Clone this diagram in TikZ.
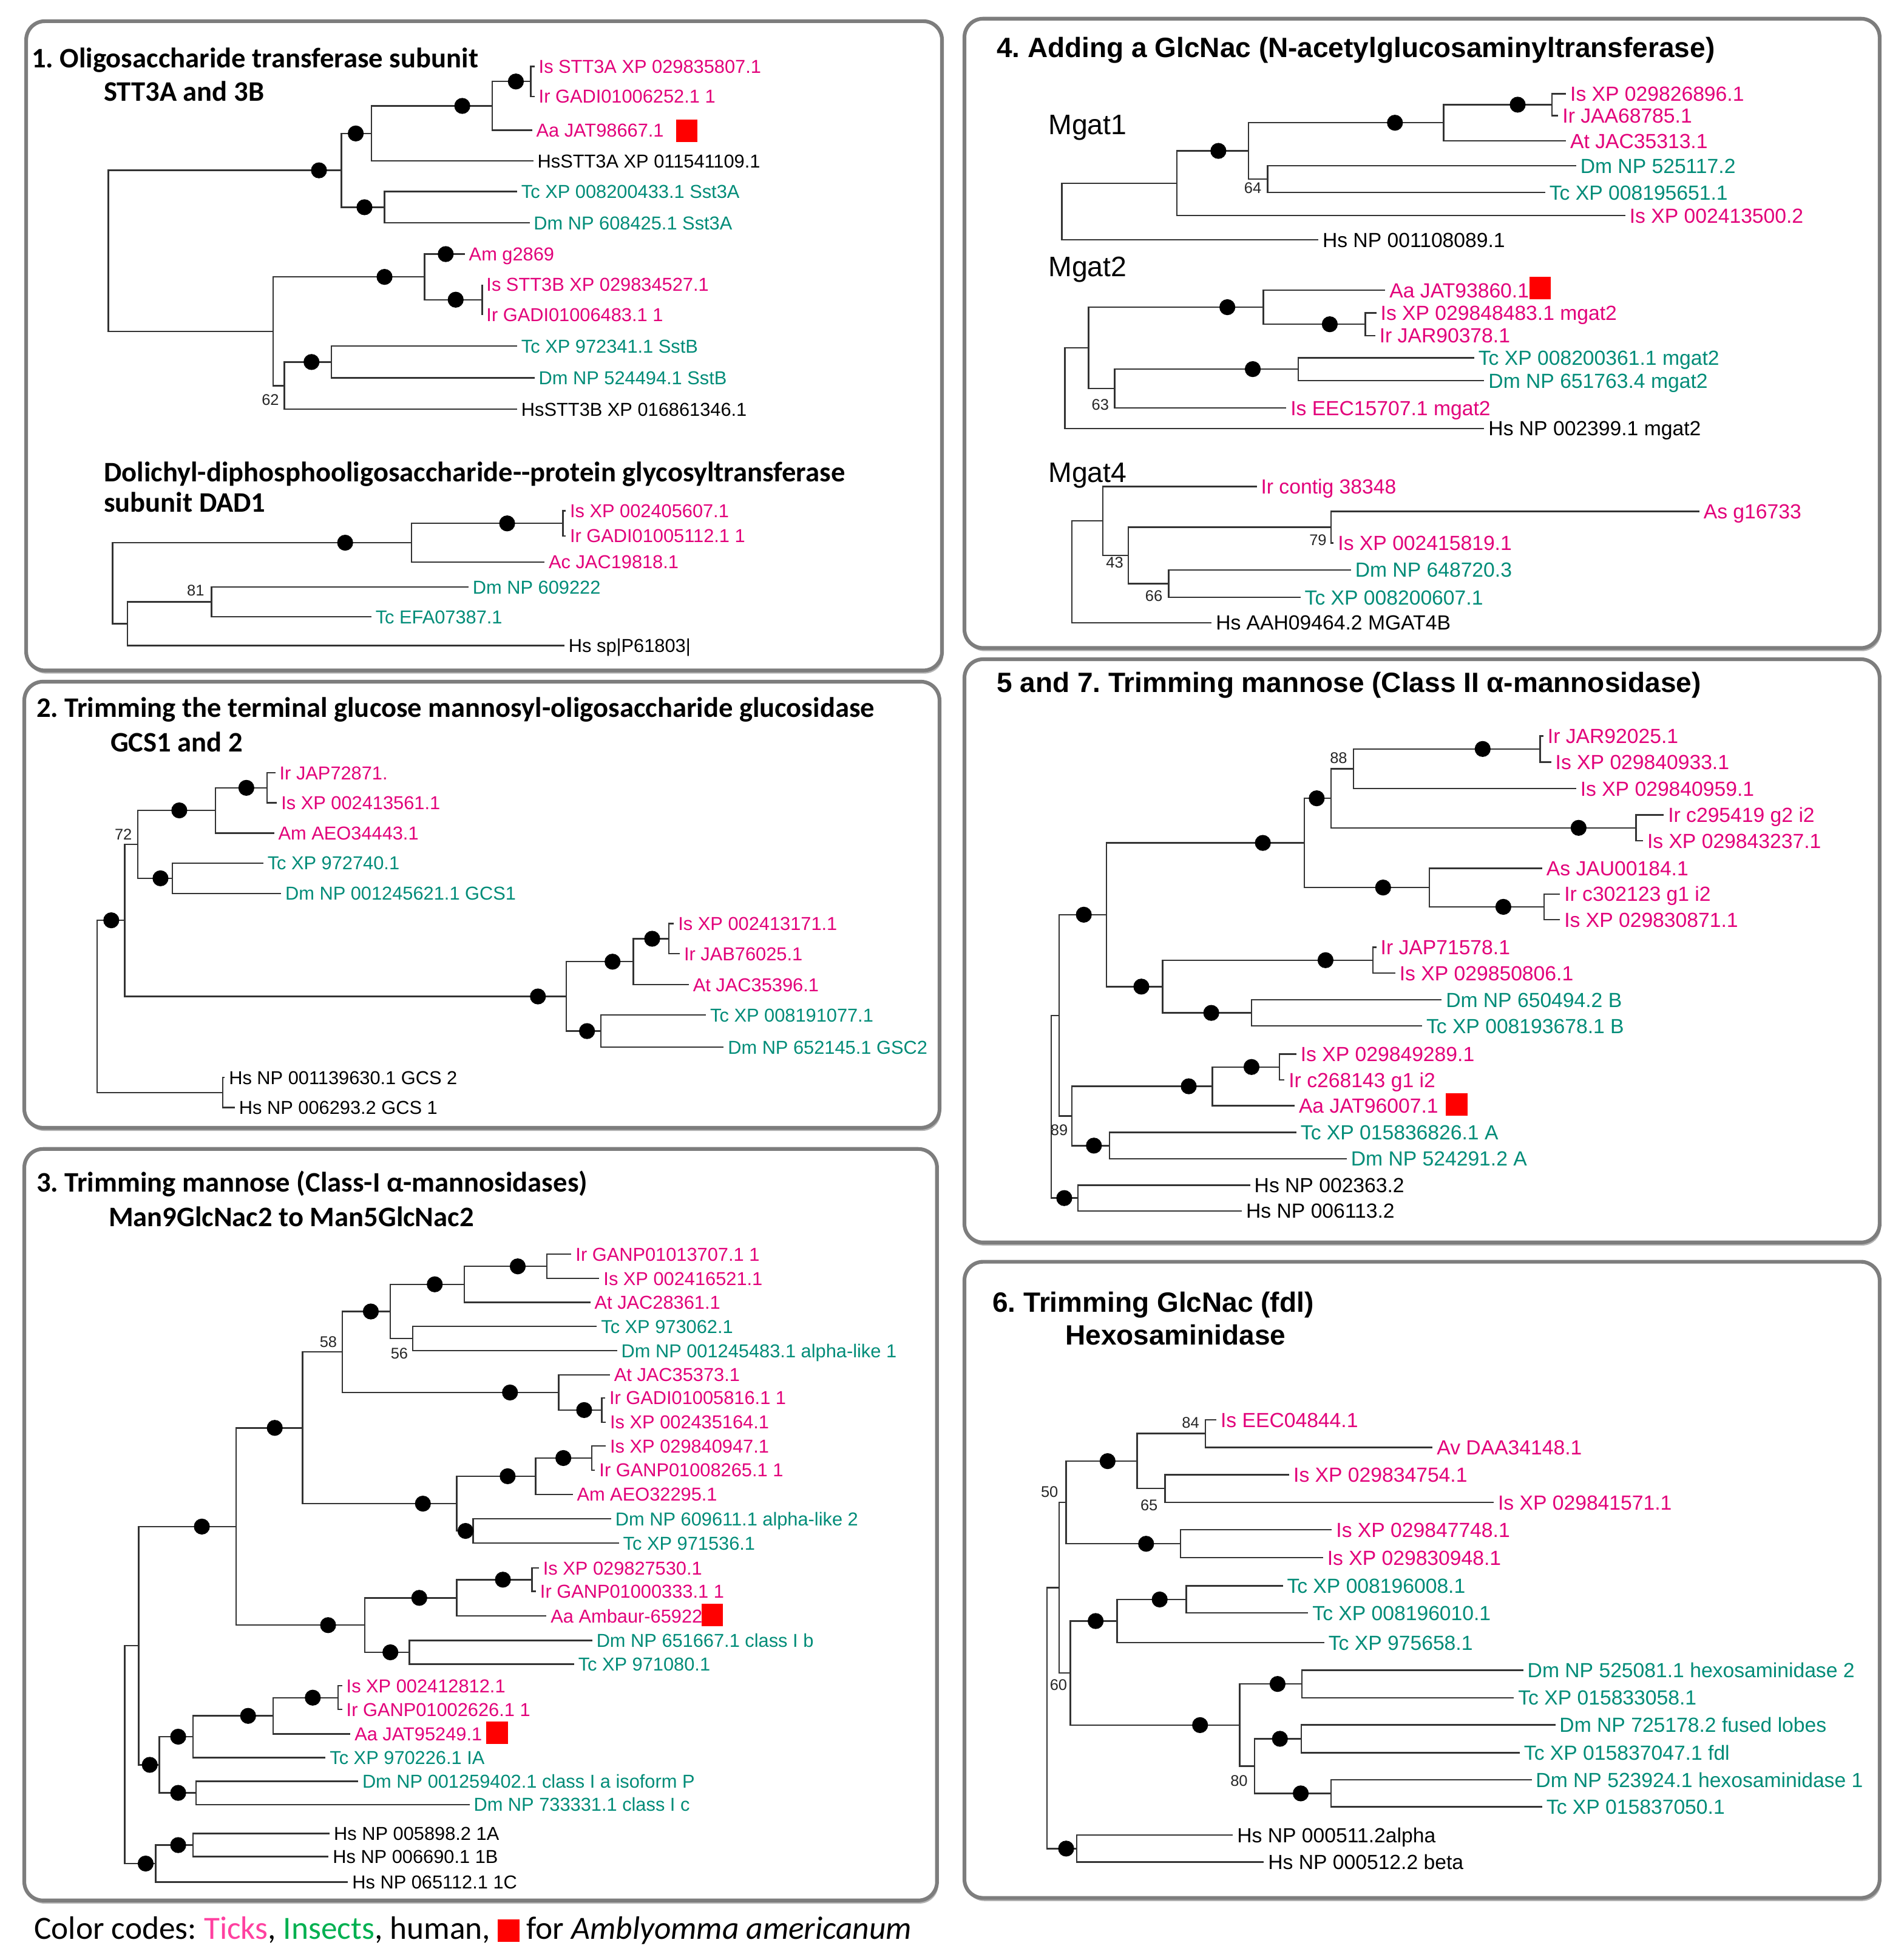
\documentclass[tikz,border=0pt]{standalone}
\usepackage{fontspec}
\setmainfont{Liberation Sans}
\newfontfamily\calibri{Carlito}
\frenchspacing
\definecolor{tickpink}{RGB}{226,0,122}
\definecolor{insectteal}{RGB}{0,140,120}
\definecolor{legpink}{RGB}{255,64,160}
\definecolor{leggreen}{RGB}{0,176,80}
\definecolor{aared}{RGB}{255,0,0}
\definecolor{panelgray}{RGB}{125,125,125}
\tikzset{ % tree styles
  leaf/.style={anchor=west,inner xsep=1.5pt,inner ysep=0pt,xshift=-1.5pt,
    text height=5.4pt,text depth=0pt,font=\fontsize{7.5}{9}\selectfont},
  tick/.style={leaf,text=tickpink},
  insect/.style={leaf,text=insectteal},
  human/.style={leaf,text=black},
  branch/.style={draw=black!80,line width=0.6pt},
  boot/.style={circle,fill=black,inner sep=0pt,minimum size=6.4pt},
  bsval/.style={inner sep=0pt,font=\fontsize{6.2}{7}\selectfont,text=black!85},
  aasq/.style={fill=aared,inner sep=0pt,minimum width=8.6pt,minimum height=9pt},
  title/.style={anchor=west,inner sep=0pt,text height=7.3pt,text depth=0pt,
    font=\calibri\bfseries\fontsize{11.35}{13}\selectfont},
  rtitle/.style={anchor=west,inner sep=0pt,text height=8pt,text depth=0pt,
    font=\bfseries\fontsize{11.2}{13}\selectfont},
  gene/.style={anchor=west,inner sep=0pt,text height=8.1pt,text depth=0pt,
    font=\fontsize{11.3}{13}\selectfont},
  panel/.style={draw=panelgray,line width=1.5pt,rounded corners=7.5pt,fill=white},
  panelshadow/.style={fill=black!30,rounded corners=7.5pt}
}

\begin{document}
\begin{tikzpicture}[x=0.5pt,y=-0.5pt]
\useasboundingbox (0,0) rectangle (1528,1568);

% panels
\foreach \xa/\ya/\xb/\yb in {21/17/756/538,19.5/547/754/905,19.5/922/752/1525,
  774/15/1508.5/520,774/529/1508.5/997,774/1012.5/1508.5/1523}
{
  \fill[panelshadow] (\xa+1,\ya+2.5) rectangle (\xb+1,\yb+2.5);
  \draw[panel] (\xa,\ya) rectangle (\xb,\yb);
}

%%%% 1. STT3A and 3B
\node[title] (t1a) at (25,47)   {1. Oligosaccharide transferase subunit};
\node[title] (t1b) at (83,74)   {STT3A and 3B};

\coordinate (A0)  at (87,201.3);
\coordinate (A1)  at (274,136.7);
\coordinate (A2)  at (298,107.1);
\coordinate (A3)  at (395,85);
\coordinate (A4)  at (426,65.4);
\coordinate (A5)  at (308.6,166.3);
\coordinate (A6)  at (219.3,265.9);
\coordinate (A7)  at (340.7,222.2);
\coordinate (A8)  at (387,240.5);
\coordinate (A9)  at (228.3,309.5);
\coordinate (A10) at (266,290.5);

\node[tick]   (Ax1)  at (432,53.3)  {Is STT3A XP 029835807.1};
\node[tick]   (Ax2)  at (432,77.4)  {Ir GADI01006252.1 1};
\node[tick]   (Ax3)  at (430,104.5) {Aa JAT98667.1};
\node[human]  (Ax4)  at (431,129.2) {HsSTT3A XP 011541109.1};
\node[insect] (Ax5)  at (418,153.7) {Tc XP 008200433.1 Sst3A};
\node[insect] (Ax6)  at (428,178.8) {Dm NP 608425.1 Sst3A};
\node[tick]   (Ax7)  at (376,203.9) {Am g2869};
\node[tick]   (Ax8)  at (390,228.4) {Is STT3B XP 029834527.1};
\node[tick]   (Ax9)  at (390,252.6) {Ir GADI01006483.1 1};
\node[insect] (Ax10) at (418,277.7) {Tc XP 972341.1 SstB};
\node[insect] (Ax11) at (432,303.2) {Dm NP 524494.1 SstB};
\node[human]  (Ax12) at (418,328.4) {HsSTT3B XP 016861346.1};

% connections
\foreach \p/\c in {A0/A1,A0/A6,A1/A2,A1/A5,A2/A3,A2/Ax4,A3/A4,A3/Ax3,A4/Ax1,A4/Ax2,
  A5/Ax5,A5/Ax6,A6/A7,A6/A9,A7/Ax7,A7/A8,A8/Ax8,A8/Ax9,A9/A10,A9/Ax12,A10/Ax10,A10/Ax11}
  \draw[branch] (\p) |- (\c);
% support
\foreach \x/\y [count=\i] in {256/136.7,285.5/107.1,371/85,414/65.4,292.5/166.3,
  357.7/203.9,365.7/240.5,308.6/222.2,250/290.5}
  \node[boot] (Ab\i) at (\x,\y) {};
\node[bsval] (Av1) at (217,321) {62};
\node[aasq]  (Aq1) at (551,105) {};

%%%% 1b. DAD1
\node[title] (t1c) at (83,379)   {Dolichyl-diphosphooligosaccharide-{}-protein glycosyltransferase};
\node[title] (t1d) at (83,403.5) {subunit DAD1};

\coordinate (B0) at (90.3,468);
\coordinate (B1) at (330.3,435.5);
\coordinate (B2) at (451.7,420);
\coordinate (B3) at (169.7,483);
\coordinate (B4) at (102.2,500.5);

\node[tick]   (Bx1) at (457,410) {Is XP 002405607.1};
\node[tick]   (Bx2) at (457,430) {Ir GADI01005112.1 1};
\node[tick]   (Bx3) at (440,451) {Ac JAC19818.1};
\node[insect] (Bx4) at (379,471) {Dm NP 609222};
\node[insect] (Bx5) at (301,495) {Tc EFA07387.1};
\node[human]  (Bx6) at (456,518) {Hs sp|P61803|};

\foreach \p/\c in {B0/B1,B0/B4,B1/B2,B1/Bx3,B2/Bx1,B2/Bx2,B4/B3,B4/Bx6,B3/Bx4,B3/Bx5}
  \draw[branch] (\p) |- (\c);
\foreach \x/\y [count=\i] in {277/435.5,407/420}
  \node[boot] (Bb\i) at (\x,\y) {};
\node[bsval] (Bv1) at (157,474) {81};

%%%% 2. GCS1 and 2
\node[title] (t2a) at (28.9,568.1) {2. Trimming the terminal glucose mannosyl-oligosaccharide glucosidase};
\node[title] (t2b) at (88.3,595.8) {GCS1 and 2};

\coordinate (C0)  at (77.9,807.6);
\coordinate (C1)  at (214.3,632.2);
\coordinate (C2)  at (173,650.3);
\coordinate (C3)  at (138.3,704.8);
\coordinate (C4)  at (110.7,677.5);
\coordinate (C5)  at (536.7,753.3);
\coordinate (C6)  at (508.2,771.7);
\coordinate (C7)  at (482.1,827.4);
\coordinate (C8)  at (454.5,799.6);
\coordinate (C9)  at (100.2,738.5);
\coordinate (C10) at (178.7,876.7);

\node[tick]   (Cx1)  at (224,620.1)   {Ir JAP72871.};
\node[tick]   (Cx2)  at (225.3,644.2) {Is XP 002413561.1};
\node[tick]   (Cx3)  at (223,668.5)   {Am AEO34443.1};
\node[insect] (Cx4)  at (214.3,692.6) {Tc XP 972740.1};
\node[insect] (Cx5)  at (228.6,716.9) {Dm NP 001245621.1 GCS1};
\node[tick]   (Cx6)  at (543.9,741.2) {Is XP 002413171.1};
\node[tick]   (Cx7)  at (548.6,765.3) {Ir JAB76025.1};
\node[tick]   (Cx8)  at (555.8,790.2) {At JAC35396.1};
\node[insect] (Cx9)  at (569.6,814.5) {Tc XP 008191077.1};
\node[insect] (Cx10) at (583.8,840.3) {Dm NP 652145.1 GSC2};
\node[human]  (Cx11) at (183.4,864.6) {Hs NP 001139630.1 GCS 2};
\node[human]  (Cx12) at (191.5,888.7) {Hs NP 006293.2 GCS 1};

\foreach \p/\c in {C0/C9,C0/C10,C9/C4,C9/C8,C4/C2,C4/C3,C2/C1,C2/Cx3,C1/Cx1,C1/Cx2,
  C3/Cx4,C3/Cx5,C8/C6,C8/C7,C6/C5,C6/Cx8,C5/Cx6,C5/Cx7,C7/Cx9,C7/Cx10,C10/Cx11,C10/Cx12}
  \draw[branch] (\p) |- (\c);
\foreach \x/\y [count=\i] in {197.7/632.2,143.9/650.3,128.8/704.8,523.4/753.3,
  491.6/771.7,471.1/827.4,431.7/799.6,89.3/738.5}
  \node[boot] (Cb\i) at (\x,\y) {};
\node[bsval] (Cv1) at (99,669.5) {72};

%%%% 3. Class-I mannosidases
\node[title] (t3a) at (28.9,949)   {3. Trimming mannose (Class-I α-mannosidases)};
\node[title] (t3b) at (86.9,976.7) {Man9GlcNac2 to Man5GlcNac2};

\coordinate (D0)  at (100.2,1408);
\coordinate (D1)  at (438.8,1016.2);
\coordinate (D2)  at (372.7,1030.6);
\coordinate (D3)  at (331.3,1074.1);
\coordinate (D4)  at (313.3,1052.4);
\coordinate (D5)  at (483,1131.5);
\coordinate (D6)  at (448.3,1117.4);
\coordinate (D7)  at (274.8,1084.9);
\coordinate (D8)  at (474.9,1170);
\coordinate (D9)  at (429.8,1184.6);
\coordinate (D10) at (379.8,1228.5);
\coordinate (D11) at (366.5,1206.6);
\coordinate (D12) at (242.9,1145.8);
\coordinate (D13) at (426.9,1267.6);
\coordinate (D14) at (366.5,1282.2);
\coordinate (D15) at (328.5,1325.9);
\coordinate (D16) at (292.8,1304.1);
\coordinate (D17) at (189.6,1225);
\coordinate (D18) at (271.4,1362.3);
\coordinate (D19) at (219.1,1376.9);
\coordinate (D20) at (154.9,1393.6);
\coordinate (D21) at (157.3,1438.7);
\coordinate (D22) at (127.8,1416.2);
\coordinate (D23) at (111.2,1320.6);
\coordinate (D24) at (154.9,1480.6);
\coordinate (D25) at (125,1495.4);

\node[tick]   (Dx1)  at (461.6,1006.4) {Ir GANP01013707.1 1};
\node[tick]   (Dx2)  at (484,1025.9)   {Is XP 002416521.1};
\node[tick]   (Dx3)  at (476.8,1045)   {At JAC28361.1};
\node[insect] (Dx4)  at (482,1064.3)   {Tc XP 973062.1};
\node[insect] (Dx5)  at (498.2,1083.8) {Dm NP 001245483.1 alpha-like 1};
\node[tick]   (Dx6)  at (492.5,1103.2) {At JAC35373.1};
\node[tick]   (Dx7)  at (488.7,1121.7) {Ir GADI01005816.1 1};
\node[tick]   (Dx8)  at (489.2,1141.2) {Is XP 002435164.1};
\node[tick]   (Dx9)  at (489.2,1160.3) {Is XP 029840947.1};
\node[tick]   (Dx10) at (480.6,1179.7) {Ir GANP01008265.1 1};
\node[tick]   (Dx11) at (462.6,1199.2) {Am AEO32295.1};
\node[insect] (Dx12) at (493.5,1218.7) {Dm NP 609611.1 alpha-like 2};
\node[insect] (Dx13) at (499.7,1238.3) {Tc XP 971536.1};
\node[tick]   (Dx14) at (435.5,1258.2) {Is XP 029827530.1};
\node[tick]   (Dx15) at (433.1,1276.9) {Ir GANP01000333.1 1};
\node[tick]   (Dx16) at (441.6,1296.7) {Aa Ambaur-65922};
\node[insect] (Dx17) at (478.3,1316.5) {Dm NP 651667.1 class I b};
\node[insect] (Dx18) at (463.7,1335.3) {Tc XP 971080.1};
\node[tick]   (Dx19) at (277.6,1352.8) {Is XP 002412812.1};
\node[tick]   (Dx20) at (277.6,1371.7) {Ir GANP01002626.1 1};
\node[tick]   (Dx21) at (284.2,1391.4) {Aa JAT95249.1};
\node[insect] (Dx22) at (264.3,1410.3) {Tc XP 970226.1 IA};
\node[insect] (Dx23) at (290.4,1429.3) {Dm NP 001259402.1 class I a isoform P};
\node[insect] (Dx24) at (379.8,1448.1) {Dm NP 733331.1 class I c};
\node[human]  (Dx25) at (267.6,1471.3) {Hs NP 005898.2 1A};
\node[human]  (Dx26) at (266.7,1489.9) {Hs NP 006690.1 1B};
\node[human]  (Dx27) at (282.3,1510.2) {Hs NP 065112.1 1C};

\foreach \p/\c in {D0/D23,D0/D25,D23/D17,D23/D22,D17/D12,D17/D16,D12/D7,D12/D11,
  D7/D4,D7/D6,D4/D2,D4/D3,D2/D1,D2/Dx3,D1/Dx1,D1/Dx2,D3/Dx4,D3/Dx5,D6/Dx6,D6/D5,
  D5/Dx7,D5/Dx8,D11/D9,D11/D10,D9/D8,D9/Dx11,D8/Dx9,D8/Dx10,D10/Dx12,D10/Dx13,
  D16/D14,D16/D15,D14/D13,D14/Dx16,D13/Dx14,D13/Dx15,D15/Dx17,D15/Dx18,
  D22/D20,D22/D21,D20/D19,D20/Dx22,D19/D18,D19/Dx21,D18/Dx19,D18/Dx20,
  D21/Dx23,D21/Dx24,D25/D24,D25/Dx27,D24/Dx25,D24/Dx26}
  \draw[branch] (\p) |- (\c);
\foreach \x/\y [count=\i] in {415.5/1016.2,348.9/1030.6,297.6/1052.4,468.8/1131.5,
  409.3/1117.4,452.1/1170,407.4/1184.6,373.6/1228.5,339.4/1206.6,220.5/1145.8,
  403.6/1267.6,336.5/1282.2,313.3/1325.9,263.3/1304.1,162/1225,251/1362.3,
  199.1/1376.9,143/1393.6,143/1438.7,120.2/1416.2,143/1480.6,116.9/1495.4}
  \node[boot] (Db\i) at (\x,\y) {};
\node[bsval] (Dv1) at (263.5,1077) {58};
\node[bsval] (Dv2) at (320.5,1086) {56};
\node[aasq]  (Dq1) at (571.5,1296)   {};
\node[aasq]  (Dq2) at (399,1390.5)   {};

%%%% right column
\begin{scope}[leaf/.append style={font=\fontsize{8.2}{10}\selectfont,text height=5.9pt}]

%%%% 4. GlcNac transferases
\node[rtitle] (t4a) at (799.5,38) {4. Adding a GlcNac (N-acetylglucosaminyltransferase)};
\node[gene] (g1) at (841,100) {Mgat1};
\node[gene] (g2) at (841,214) {Mgat2};
\node[gene] (g4) at (841,379) {Mgat4};

\coordinate (E0) at (852.2,169.7);
\coordinate (E1) at (1245.5,84);
\coordinate (E2) at (1158.5,98.5);
\coordinate (E3) at (1017.3,143.7);
\coordinate (E4) at (1002,121.1);
\coordinate (E5) at (944.5,147);

\node[tick]   (Ex1) at (1259.8,75.2) {Is XP 029826896.1};
\node[tick]   (Ex2) at (1253.6,92.7) {Ir JAA68785.1};
\node[tick]   (Ex3) at (1259.8,113)  {At JAC35313.1};
\node[insect] (Ex4) at (1267.9,133)  {Dm NP 525117.2};
\node[insect] (Ex5) at (1243.1,154.4) {Tc XP 008195651.1};
\node[tick]   (Ex6) at (1307.4,173)  {Is XP 002413500.2};
\node[human]  (Ex7) at (1061,192.4)  {Hs NP 001108089.1};

\foreach \p/\c in {E0/E5,E0/Ex7,E5/E4,E5/Ex6,E4/E2,E4/E3,E2/E1,E2/Ex3,E1/Ex1,E1/Ex2,
  E3/Ex4,E3/Ex5}
  \draw[branch] (\p) |- (\c);
\foreach \x/\y [count=\i] in {1218/84,1119.5/98.5,977.8/121.1}
  \node[boot] (Eb\i) at (\x,\y) {};
\node[bsval] (Ev1) at (1005.4,151) {64};

\coordinate (F0) at (854.6,311.5);
\coordinate (F1) at (1095.7,260.2);
\coordinate (F2) at (1013.9,246.5);
\coordinate (F3) at (1042,296.2);
\coordinate (F4) at (894.6,311.8);
\coordinate (F5) at (873.6,279.2);

\node[tick]   (Fx1) at (1114.8,232.8) {Aa JAT93860.1};
\node[tick]   (Fx2) at (1107.6,251.1) {Is XP 029848483.1 mgat2};
\node[tick]   (Fx3) at (1106.7,269.3) {Ir JAR90378.1};
\node[insect] (Fx4) at (1186.1,287.1) {Tc XP 008200361.1 mgat2};
\node[insect] (Fx5) at (1194.2,305.4) {Dm NP 651763.4 mgat2};
\node[tick]   (Fx6) at (1035.3,327.4) {Is EEC15707.1 mgat2};
\node[human]  (Fx7) at (1194.2,343.8) {Hs NP 002399.1 mgat2};

\foreach \p/\c in {F0/F5,F0/Fx7,F5/F2,F5/F4,F2/Fx1,F2/F1,F1/Fx2,F1/Fx3,F4/F3,F4/Fx6,
  F3/Fx4,F3/Fx5}
  \draw[branch] (\p) |- (\c);
\foreach \x/\y [count=\i] in {1067.2/260.2,985/246.5,1005.4/296.2}
  \node[boot] (Fb\i) at (\x,\y) {};
\node[bsval] (Fv1) at (883,324.7) {63};
\node[aasq]  (Fq1) at (1236,231)  {};

\coordinate (G0) at (860.3,458.9);
\coordinate (G1) at (1068.1,423.1);
\coordinate (G2) at (937.9,468.3);
\coordinate (G3) at (905.5,445.7);
\coordinate (G4) at (885,418);

\node[tick]   (Gx1) at (1011.6,390.4) {Ir contig 38348};
\node[tick]   (Gx2) at (1366.8,410.4) {As g16733};
\node[tick]   (Gx3) at (1073.4,435.8) {Is XP 002415819.1};
\node[insect] (Gx4) at (1087.2,457.3) {Dm NP 648720.3};
\node[insect] (Gx5) at (1046.7,479.3) {Tc XP 008200607.1};
\node[human]  (Gx6) at (975.4,499.7)  {Hs AAH09464.2 MGAT4B};

\foreach \p/\c in {G0/G4,G0/Gx6,G4/Gx1,G4/G3,G3/G1,G3/G2,G1/Gx2,G1/Gx3,G2/Gx4,G2/Gx5}
  \draw[branch] (\p) |- (\c);
\node[bsval] (Gv1) at (1057.7,433.6) {79};
\node[bsval] (Gv2) at (894.6,451.4)  {43};
\node[bsval] (Gv3) at (926,478.2)    {66};

%%%% 5 and 7. Class II mannosidase
\node[rtitle] (t5a) at (799.5,547.7) {5 and 7. Trimming mannose (Class II α-mannosidase)};

\coordinate (H0)  at (843.7,888.1);
\coordinate (H1)  at (1236,601);
\coordinate (H2)  at (1086.2,616.9);
\coordinate (H3)  at (1313,664.3);
\coordinate (H4)  at (1068.1,640.6);
\coordinate (H5)  at (1239.3,727.7);
\coordinate (H6)  at (1147.1,712.2);
\coordinate (H7)  at (1046.7,676.4);
\coordinate (H8)  at (1101.9,770.5);
\coordinate (H9)  at (1004.4,812.8);
\coordinate (H10) at (933.1,791.7);
\coordinate (H11) at (887.9,734);
\coordinate (H12) at (1026.8,856.2);
\coordinate (H13) at (973,871.7);
\coordinate (H14) at (890.3,919.3);
\coordinate (H15) at (860.3,895.5);
\coordinate (H16) at (849.9,814.8);
\coordinate (H17) at (865.1,961.4);

\node[tick]   (Hx1)  at (1241.7,590.6) {Ir JAR92025.1};
\node[tick]   (Hx2)  at (1247.9,611.5) {Is XP 029840933.1};
\node[tick]   (Hx3)  at (1267.9,632.8) {Is XP 029840959.1};
\node[tick]   (Hx4)  at (1338.3,654)   {Ir c295419 g2 i2};
\node[tick]   (Hx5)  at (1321.6,674.6) {Is XP 029843237.1};
\node[tick]   (Hx6)  at (1240.7,696.8) {As JAU00184.1};
\node[tick]   (Hx7)  at (1255,717.4)   {Ir c302123 g1 i2};
\node[tick]   (Hx8)  at (1255,738)     {Is XP 029830871.1};
\node[tick]   (Hx9)  at (1107.6,760.2) {Ir JAP71578.1};
\node[tick]   (Hx10) at (1122.8,780.9) {Is XP 029850806.1};
\node[insect] (Hx11) at (1160,802.3)   {Dm NP 650494.2 B};
\node[insect] (Hx12) at (1144.3,823.3) {Tc XP 008193678.1 B};
\node[tick]   (Hx13) at (1043.4,845.9) {Is XP 029849289.1};
\node[tick]   (Hx14) at (1033.9,866.5) {Ir c268143 g1 i2};
\node[tick]   (Hx15) at (1042,887.2)   {Aa JAT96007.1};
\node[insect] (Hx16) at (1043.4,908.8) {Tc XP 015836826.1 A};
\node[insect] (Hx17) at (1083.8,929.8) {Dm NP 524291.2 A};
\node[human]  (Hx18) at (1006.3,951.1) {Hs NP 002363.2};
\node[human]  (Hx19) at (999.7,971.7)  {Hs NP 006113.2};

\foreach \p/\c in {H0/H16,H0/H17,H16/H11,H16/H15,H11/H7,H11/H10,H7/H4,H7/H6,
  H4/H2,H4/H3,H2/H1,H2/Hx3,H1/Hx1,H1/Hx2,H3/Hx4,H3/Hx5,H6/Hx6,H6/H5,H5/Hx7,H5/Hx8,
  H10/H8,H10/H9,H8/Hx9,H8/Hx10,H9/Hx11,H9/Hx12,H15/H13,H15/H14,H13/H12,H13/Hx15,
  H12/Hx13,H12/Hx14,H14/Hx16,H14/Hx17,H17/Hx18,H17/Hx19}
  \draw[branch] (\p) |- (\c);
\foreach \x/\y [count=\i] in {1189.9/601,1266.9/664.3,1056.7/640.6,1206.5/727.7,
  1110/712.2,1013.5/676.4,1063.8/770.5,972.1/812.8,916/791.7,869.8/734,
  1004.4/856.2,954/871.7,877.9/919.3,854.1/961.4}
  \node[boot] (Hb\i) at (\x,\y) {};
\node[bsval] (Hv1) at (1074.3,608.2) {88};
\node[bsval] (Hv2) at (850,907)      {89};
\node[aasq]  (Hq1) at (1169,886.5)   {};

%%%% 6. Hexosaminidase
\node[rtitle] (t6a) at (796.2,1045)   {6. Trimming GlcNac (fdl)};
\node[rtitle] (t6b) at (854.6,1071.2) {Hexosaminidase};

\coordinate (K0)  at (840.3,1378.7);
\coordinate (K1)  at (967.4,1150.4);
\coordinate (K2)  at (935,1194.5);
\coordinate (K3)  at (912.6,1172.5);
\coordinate (K4)  at (947.4,1238.8);
\coordinate (K5)  at (855.6,1205.6);
\coordinate (K6)  at (952.1,1283.5);
\coordinate (K7)  at (896.5,1300.8);
\coordinate (K8)  at (1044.8,1351.3);
\coordinate (K9)  at (1044.3,1395.3);
\coordinate (K10) at (1068.1,1439.1);
\coordinate (K11) at (1006.8,1417.2);
\coordinate (K12) at (994.9,1384.3);
\coordinate (K13) at (858.9,1342.5);
\coordinate (K14) at (849.9,1274.1);
\coordinate (K15) at (864.1,1483.4);

\node[tick]   (Kx1)  at (979.2,1139.3)  {Is EEC04844.1};
\node[tick]   (Kx2)  at (1152.8,1161.5) {Av DAA34148.1};
\node[tick]   (Kx3)  at (1037.7,1183.4) {Is XP 029834754.1};
\node[tick]   (Kx4)  at (1201.8,1205.6) {Is XP 029841571.1};
\node[tick]   (Kx5)  at (1071.9,1227.6) {Is XP 029847748.1};
\node[tick]   (Kx6)  at (1064.8,1250)   {Is XP 029830948.1};
\node[insect] (Kx7)  at (1032.5,1272.6) {Tc XP 008196008.1};
\node[insect] (Kx8)  at (1052.9,1294.3) {Tc XP 008196010.1};
\node[insect] (Kx9)  at (1065.8,1318.2) {Tc XP 975658.1};
\node[insect] (Kx10) at (1225.5,1340.3) {Dm NP 525081.1 hexosaminidase 2};
\node[insect] (Kx11) at (1218,1362.3)   {Tc XP 015833058.1};
\node[insect] (Kx12) at (1251.2,1384.2) {Dm NP 725178.2 fused lobes};
\node[insect] (Kx13) at (1222.7,1406.4) {Tc XP 015837047.1 fdl};
\node[insect] (Kx14) at (1232.2,1428.3) {Dm NP 523924.1 hexosaminidase 1};
\node[insect] (Kx15) at (1240.7,1449.8) {Tc XP 015837050.1};
\node[human]  (Kx16) at (992.5,1472.5)  {Hs NP 000511.2alpha};
\node[human]  (Kx17) at (1017.3,1494.2) {Hs NP 000512.2 beta};

\foreach \p/\c in {K0/K14,K0/K15,K14/K5,K14/K13,K5/K3,K5/K4,K3/K1,K3/K2,K1/Kx1,K1/Kx2,
  K2/Kx3,K2/Kx4,K4/Kx5,K4/Kx6,K13/K7,K13/K12,K7/K6,K7/Kx9,K6/Kx7,K6/Kx8,K12/K8,K12/K11,
  K8/Kx10,K8/Kx11,K11/K9,K11/K10,K9/Kx12,K9/Kx13,K10/Kx14,K10/Kx15,K15/Kx16,K15/Kx17}
  \draw[branch] (\p) |- (\c);
\foreach \x/\y [count=\i] in {888.9/1172.5,919.8/1238.8,930.7/1283.5,879.3/1300.8,
  1025.3/1351.3,1027.2/1395.3,1043.9/1439.1,963.1/1384.3,855.6/1483.4}
  \node[boot] (Kb\i) at (\x,\y) {};
\node[bsval] (Kv1) at (955.5,1141.6) {84};
\node[bsval] (Kv2) at (922.2,1208)   {65};
\node[bsval] (Kv3) at (842.3,1197)   {50};
\node[bsval] (Kv4) at (849.5,1352)   {60};
\node[bsval] (Kv5) at (994.4,1429)   {80};
\end{scope}

% colour key
\node[anchor=base west,inner sep=0pt,font=\calibri\fontsize{13}{15}\selectfont] (key) at (27,1556)
  {Color codes: \textcolor{legpink}{Ticks}, \textcolor{leggreen}{Insects}, human,
   \textcolor{aared}{\rule[-1pt]{8.6pt}{9pt}} for \textit{Amblyomma americanum}};
\end{tikzpicture}
\end{document}
